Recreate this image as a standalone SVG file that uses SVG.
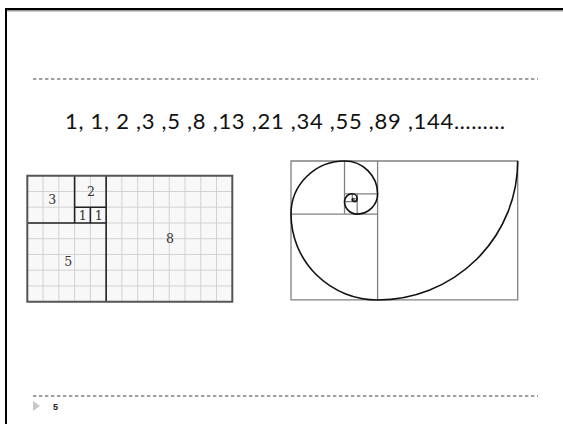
<svg xmlns="http://www.w3.org/2000/svg" width="563" height="424" viewBox="0 0 563 424">
<style>
.dash{stroke:#808080;stroke-width:1.6;stroke-dasharray:3.4 2.6;fill:none}
.grid{stroke:#d2d2d2;stroke-width:1;fill:none}
.bold{stroke:#222;stroke-width:1.6;fill:none}
.sq{stroke:#808080;stroke-width:1.3;fill:none}
.spiral{stroke:#111;stroke-width:1.6;fill:none}
.lbl{font-family:"DejaVu Serif","Liberation Serif",serif;font-size:12.5px;fill:#333;text-anchor:middle}
</style>
<rect width="563" height="424" fill="#fff"/>
<g id="frame">
<rect x="6" y="9" width="620" height="500" fill="none" stroke="#000" stroke-width="2"/>
<line x1="7" y1="10.8" x2="563" y2="10.8" stroke="#999" stroke-width="1.4"/>
<line class="dash" x1="33" y1="79" x2="538" y2="79"/>
<line class="dash" x1="33" y1="396" x2="538" y2="396"/>
<polygon points="33,401 40,406 33,411" fill="#c8c8c8"/>
<text x="53" y="410" font-family="'Liberation Sans',Arial,sans-serif" font-size="9" font-weight="bold" fill="#222">5</text>
</g>
<g id="sequence">
<text x="65" y="129" font-family="Lato,'Liberation Sans',sans-serif" font-size="22" fill="#111" textLength="440" lengthAdjust="spacing">1, 1, 2 ,3 ,5 ,8 ,13 ,21 ,34 ,55 ,89 ,144………</text>
</g>
<g id="fib-grid">
<g transform="translate(27.3,175.7) scale(15.77,15.75)">
<rect x="0" y="0" width="13" height="8" fill="#f8f8f8"/>
<path class="grid" vector-effect="non-scaling-stroke" d="M1,0V8M2,0V8M3,0V8M4,0V8M5,0V8M6,0V8M7,0V8M8,0V8M9,0V8M10,0V8M11,0V8M12,0V8M0,1H13M0,2H13M0,3H13M0,4H13M0,5H13M0,6H13M0,7H13"/>
<path class="bold" vector-effect="non-scaling-stroke" d="M3,0V3M0,3H5M5,0V8M3,2H5M4,2V3"/>
<rect x="0" y="0" width="13" height="8" fill="none" stroke="#555" stroke-width="2" vector-effect="non-scaling-stroke"/>
</g>
<text class="lbl" x="52.3" y="203.5">3</text>
<text class="lbl" x="91" y="196">2</text>
<text class="lbl" x="82.7" y="219.5">1</text>
<text class="lbl" x="98.7" y="219.5">1</text>
<text class="lbl" x="68.3" y="266">5</text>
<text class="lbl" x="170" y="242.5">8</text>
</g>
<g id="golden-spiral">
<g transform="translate(291,161) scale(0.973,0.965)">
<rect class="sq" vector-effect="non-scaling-stroke" x="0" y="0" width="233" height="144"/>
<path class="sq" vector-effect="non-scaling-stroke" d="M89,0V144M0,55H89M55,0V55M55,34H89M68,34V55M55,42H68M63,34V42M63,39H68M65,39V42M63,40H65M64,39V40"/>
<path class="spiral" vector-effect="non-scaling-stroke" d="M233,0A144,144 0 0 1 89,144A89,89 0 0 1 0,55A55,55 0 0 1 55,0A34,34 0 0 1 89,34A21,21 0 0 1 68,55A13,13 0 0 1 55,42A8,8 0 0 1 63,34A5,5 0 0 1 68,39A3,3 0 0 1 65,42A2,2 0 0 1 63,40A1,1 0 0 1 64,39"/>
</g>
</g>
</svg>
